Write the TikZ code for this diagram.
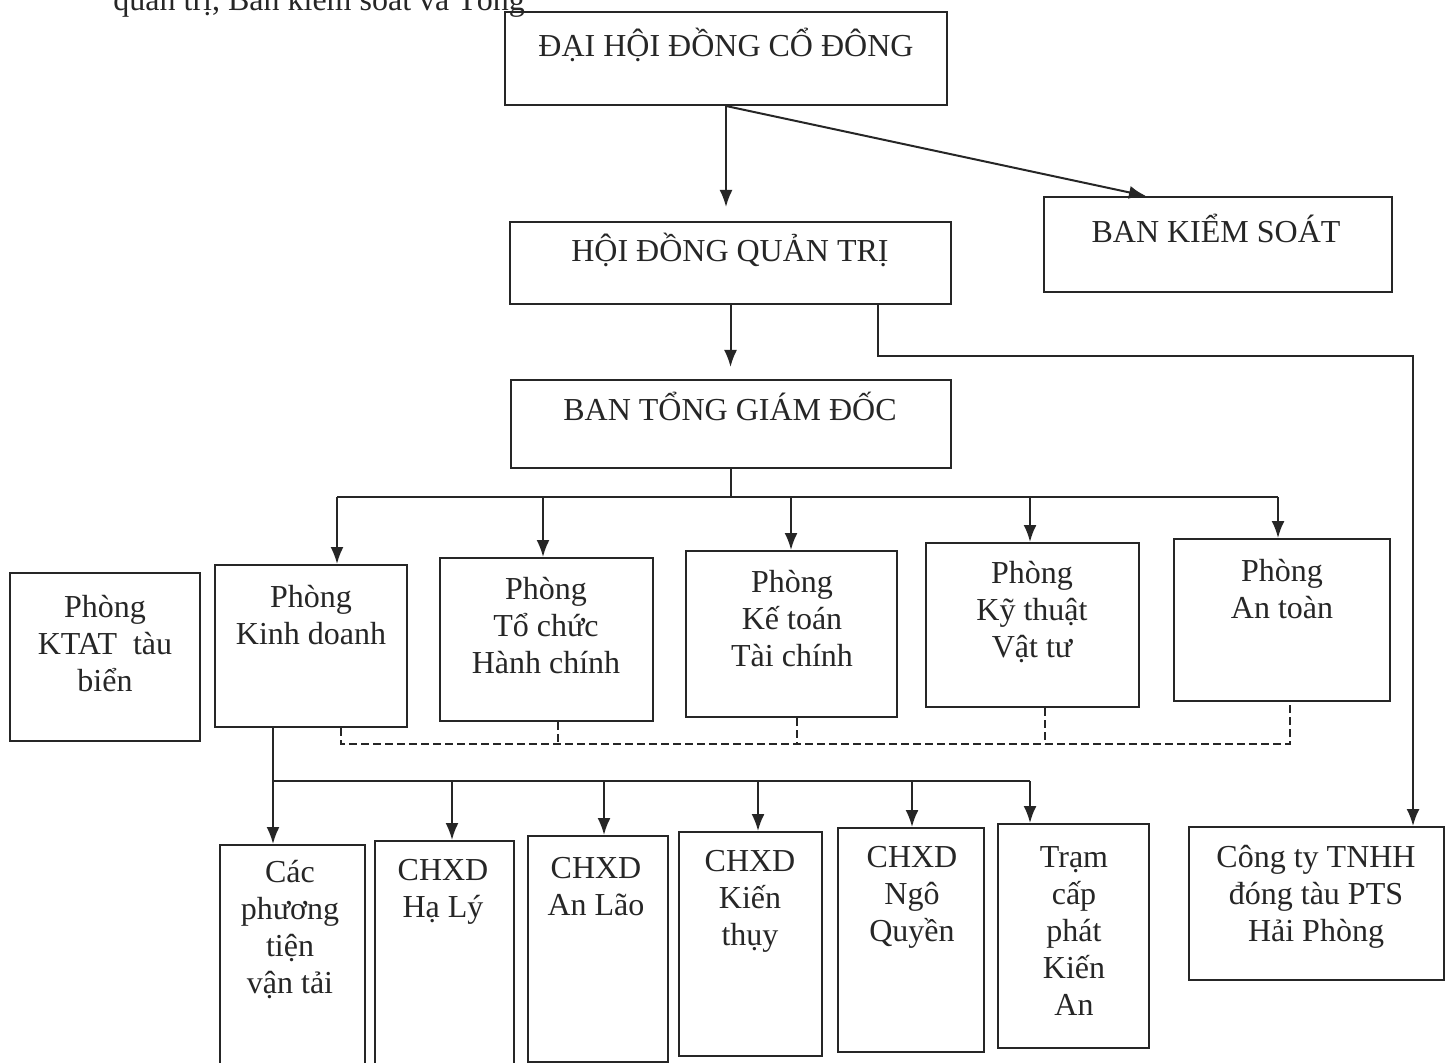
\documentclass[tikz,border=0pt]{standalone}
\usepackage{fontspec}
\setmainfont{Liberation Serif}
\usetikzlibrary{arrows.meta,calc}
\tikzset{
  box/.style={draw=black!85, line width=1pt, rectangle, inner sep=0pt},
  lbl/.style={font=\fontsize{16}{18.5}\selectfont, align=center, inner sep=0pt, text=black!85},
  arr/.style={draw=black!85, line width=1pt, -{Latex[length=8.5pt,width=6.5pt]}},
  conn/.style={draw=black!85, line width=1pt},
  dsh/.style={draw=black!85, line width=1.3pt, dash pattern=on 4pt off 2pt},
}
\newcommand\obox[5]{\node[box, minimum width={(#4-#2)*0.5pt}, minimum height={(#5-#3)*0.5pt}] (#1) at ({(#2+#4)/2},{(#3+#5)/2}) {};}
\begin{document}
\begin{tikzpicture}[x=0.5pt,y=-0.5pt]
\useasboundingbox (0,0) rectangle (1454,1063);
\clip (0,0) rectangle (1454,1063);
\fill[white] (0,0) rectangle (1454,1063);
\node[lbl, anchor=base west] (intro) at (113,11) {quản trị, Ban kiểm soát và Tổng};
% boxes
\obox{dh}{505}{12}{947}{105}
\obox{hd}{510}{222}{951}{304}
\obox{bks}{1044}{197}{1392}{292}
\obox{bt}{511}{380}{951}{468}
\obox{ktat}{10}{573}{200}{741}
\obox{kd}{215}{565}{407}{727}
\obox{tc}{440}{558}{653}{721}
\obox{kt}{686}{551}{897}{717}
\obox{kyt}{926}{543}{1139}{707}
\obox{at}{1174}{539}{1390}{701}
\obox{cty}{1189}{827}{1444}{980}
\obox{b1}{220}{845}{365}{1080}
\obox{b2}{375}{841}{514}{1080}
\obox{b3}{528}{836}{668}{1062}
\obox{b4}{679}{832}{822}{1056}
\obox{b5}{838}{828}{984}{1052}
\obox{b6}{998}{824}{1149}{1048}
% labels
\node[lbl] (l_dh) at (726,45) {ĐẠI HỘI ĐỒNG CỔ ĐÔNG};
\node[lbl] (l_hd) at (730,250) {HỘI ĐỒNG QUẢN TRỊ};
\node[lbl] (l_bks) at (1216,228) {BAN KIỂM SOÁT};
\node[lbl] (l_bt) at (730,406) {BAN TỔNG GIÁM ĐỐC};
\node[lbl] (l_ktat) at (105,644) {Phòng\\KTAT\ \ tàu\\biển};
\node[lbl] (l_kd) at (311,615) {Phòng\\Kinh doanh};
\node[lbl] (l_tc) at (546,626) {Phòng\\Tổ chức\\Hành chính};
\node[lbl] (l_kt) at (792,619) {Phòng\\Kế toán\\Tài chính};
\node[lbl] (l_kyt) at (1032,612) {Phòng\\Kỹ thuật\\Vật tư};
\node[lbl] (l_at) at (1282,589) {Phòng\\An toàn};
\node[lbl] (l_cty) at (1316,897) {Công ty TNHH\\đóng tàu PTS\\Hải Phòng};
\node[lbl] (l_b1) at (290,930) {Các\\phương\\tiện\\vận tải};
\node[lbl] (l_b2) at (443,892) {CHXD\\Hạ Lý};
\node[lbl] (l_b3) at (596,887) {CHXD\\An Lão};
\node[lbl] (l_b4) at (750,901) {CHXD\\Kiến\\thụy};
\node[lbl] (l_b5) at (912,897) {CHXD\\Ngô\\Quyền};
\node[lbl] (l_b6) at (1074,931) {Trạm\\cấp\\phát\\Kiến\\An};
% top connectors
\draw[arr, shorten >=7pt] (dh.south) -- (dh.south |- hd.north);
\draw[arr] (dh.south) -- ($(bks.north west)+(103,0)$);
\draw[arr, shorten >=6pt] (hd.south) -- (hd.south |- bt.north);
\coordinate (e1) at (878,356);
\coordinate (e2) at (1413,356);
\draw[arr] (e1 |- hd.south) -- (e1) -- (e2) -- (e2 |- cty.north);
% BTGD to departments
\coordinate (t0) at (731,497);
\coordinate (t1) at (337,497);
\coordinate (t2) at (543,497);
\coordinate (t3) at (791,497);
\coordinate (t4) at (1030,497);
\coordinate (t5) at (1278,497);
\draw[conn] (bt.south) -- (bt.south |- t0);
\draw[conn] (t1) -- (t5);
\draw[arr] (t1) -- (t1 |- kd.north);
\draw[arr] (t2) -- (t2 |- tc.north);
\draw[arr] (t3) -- (t3 |- kt.north);
\draw[arr] (t4) -- (t4 |- kyt.north);
\draw[arr] (t5) -- (t5 |- at.north);
% dashed links
\coordinate (d1) at (341,744);
\coordinate (d2) at (558,744);
\coordinate (d3) at (797,744);
\coordinate (d4) at (1045,744);
\coordinate (d5) at (1290,744);
\draw[dsh] (d1 |- kd.south) -- (d1) -- (d5) -- (d5 |- at.south);
\draw[dsh] (d2 |- tc.south) -- (d2);
\draw[dsh] (d3 |- kt.south) -- (d3);
\draw[dsh] (d4 |- kyt.south) -- (d4);
% Kinh doanh to units
\coordinate (u0) at (273,781);
\coordinate (u2) at (452,781);
\coordinate (u3) at (604,781);
\coordinate (u4) at (758,781);
\coordinate (u5) at (912,781);
\coordinate (u6) at (1030,781);
\draw[arr] (u0 |- kd.south) -- (u0 |- b1.north);
\draw[conn] (u0) -- (u6);
\draw[arr] (u2) -- (u2 |- b2.north);
\draw[arr] (u3) -- (u3 |- b3.north);
\draw[arr] (u4) -- (u4 |- b4.north);
\draw[arr] (u5) -- (u5 |- b5.north);
\draw[arr] (u6) -- (u6 |- b6.north);
\end{tikzpicture}
\end{document}
